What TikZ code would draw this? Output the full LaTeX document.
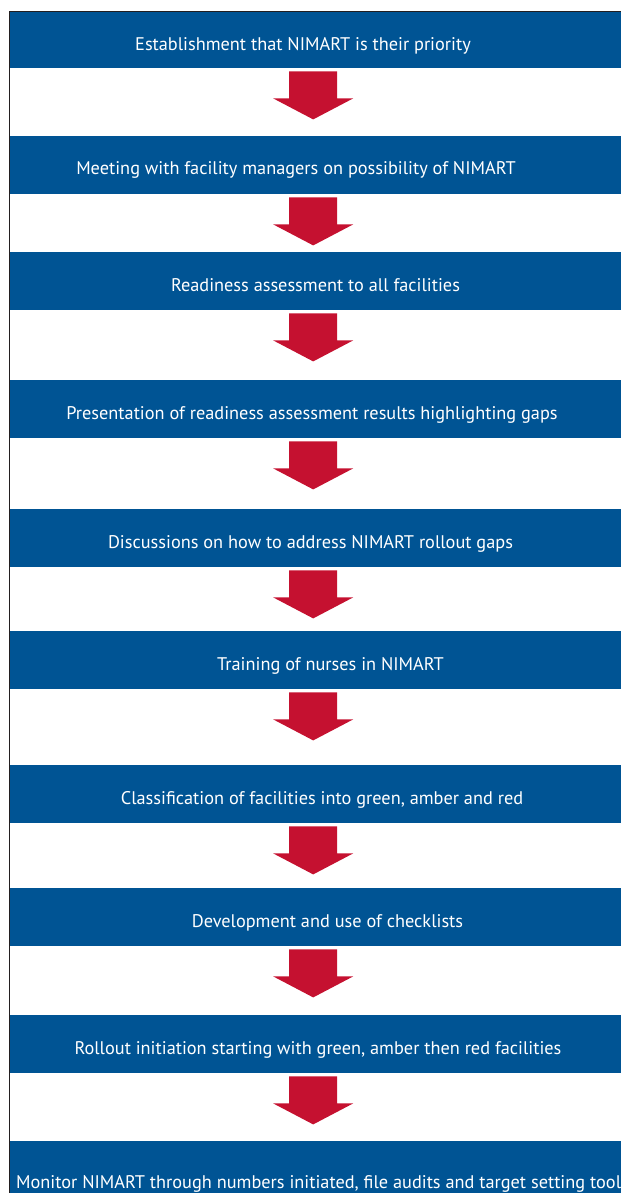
\documentclass[tikz,border=0pt]{standalone}
\usepackage{fontspec}
\setmainfont{PT Sans}
\usetikzlibrary{calc}
\definecolor{stepblue}{RGB}{0,84,148}
\definecolor{arrowred}{RGB}{197,17,48}
\definecolor{framegray}{RGB}{35,31,32}
\tikzset{
    stepbar/.style={
        rectangle, fill=stepblue, draw=none, inner sep=0pt,
        minimum width=611pt, minimum height=58pt, anchor=north west
    },
    steptext/.style={
        text=white, font=\fontsize{18.3}{21}\selectfont, inner sep=0pt, anchor=base
    },
    downarrow/.style={fill=arrowred, draw=none},
    frame/.style={draw=framegray, line width=1pt}
}
% block arrow hanging under a bar
\newcommand{\flowarrow}[1]{%
  \fill[downarrow] ($(#1.south)+(-26.5,3)$) -- ++(48,0) -- ++(0,27) -- ++(16,0)
    -- ++(-40,21) -- ++(-40,-21) -- ++(16,0) -- cycle;}

\begin{document}
\begin{tikzpicture}[x=1pt, y=-1pt]
\clip (0,0) rectangle (621,1193);

% Bars
\node[stepbar, minimum height=56pt] (b1) at (10,12) {};
\node[stepbar] (b2) at (10,136) {};
\node[stepbar] (b3) at (10,252) {};
\node[stepbar] (b4) at (10,380) {};
\node[stepbar] (b5) at (10,509) {};
\node[stepbar] (b6) at (10,631) {};
\node[stepbar] (b7) at (10,765) {};
\node[stepbar] (b8) at (10,888) {};
\node[stepbar] (b9) at (10,1015) {};
\node[stepbar] (b10) at (10,1141) {};

% Frame
\draw[frame] (9.5,1193) |- (621,11.5);

% Texts
\node[steptext] (t1) at (303,51) {Establishment that NIMART is their priority};
\node[steptext] (t2) at (296,175) {Meeting with facility managers on possibility of NIMART};
\node[steptext] (t3) at (315.5,291) {Readiness assessment to all facilities};
\node[steptext] (t4) at (312,419) {Presentation of readiness assessment results highlighting gaps};
\node[steptext] (t5) at (310.5,548) {Discussions on how to address NIMART rollout gaps};
\node[steptext] (t6) at (330.5,670) {Training of nurses in NIMART};
\node[steptext] (t7) at (322,804) {Classification of facilities into green, amber and red};
\node[steptext] (t8) at (327.5,927) {Development and use of checklists};
\node[steptext] (t9) at (318,1054) {Rollout initiation starting with green, amber then red facilities};
\node[steptext, anchor=base west] (t10) at (16,1188) {Monitor NIMART through numbers initiated, file audits and target setting tool};

% Arrows
\flowarrow{b1}
\flowarrow{b2}
\flowarrow{b3}
\flowarrow{b4}
\flowarrow{b5}
\flowarrow{b6}
\flowarrow{b7}
\flowarrow{b8}
\flowarrow{b9}

\end{tikzpicture}
\end{document}
